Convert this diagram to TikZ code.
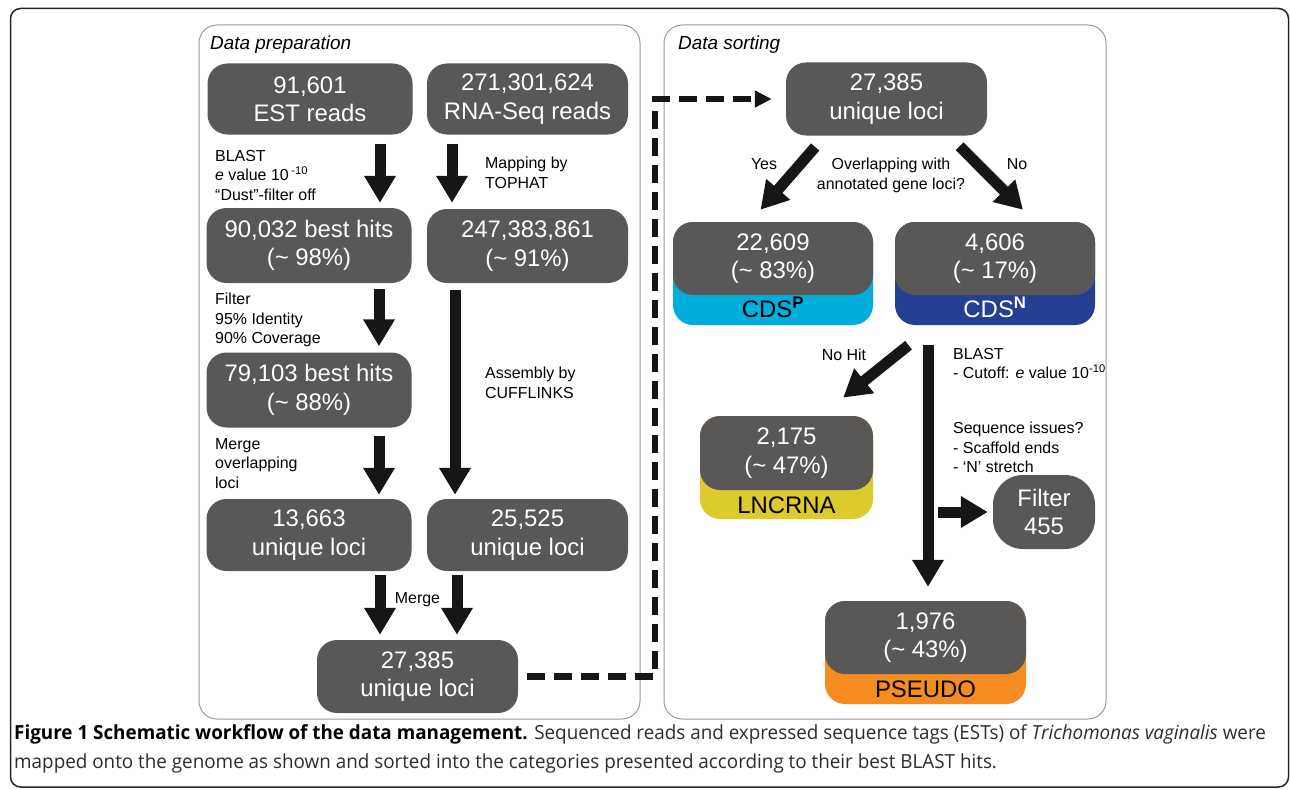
\documentclass[tikz,border=0pt]{standalone}
\usepackage{fontspec}
\setmainfont{Liberation Sans}
\newfontfamily\capfont[FakeStretch=0.97]{Open Sans}
\usetikzlibrary{arrows.meta,positioning}
\definecolor{box_gray}{RGB}{90,88,87}
\definecolor{frame_gray}{RGB}{155,155,155}
\definecolor{arrow_black}{RGB}{22,22,20}
\definecolor{cat_cyan}{RGB}{0,174,219}
\definecolor{cat_navy}{RGB}{36,64,146}
\definecolor{cat_yellow}{RGB}{221,202,44}
\definecolor{cat_orange}{RGB}{245,140,31}
\definecolor{cap_text}{RGB}{45,45,45}

\begin{document}
\begin{tikzpicture}[x=1bp,y=-1bp]
    \tikzstyle{num}=[fill=box_gray, rounded corners=20bp, text=white, align=center, inner sep=0pt,
                     font=\fontsize{24}{28.5}\selectfont, minimum width=201bp, minimum height=73bp]
    \tikzstyle{band}=[style=num, minimum height=103bp]
    \tikzstyle{cat}=[inner sep=0pt, font=\fontsize{24}{28}\selectfont, text=black]
    \tikzstyle{note}=[inner sep=0pt, align=left, anchor=north west, font=\fontsize{16}{19.5}\selectfont]
    \tikzstyle{title}=[inner sep=0pt, anchor=base west, font=\fontsize{19}{22}\selectfont\itshape]
    \tikzstyle{flow}=[draw=arrow_black, line width=11bp, -{Triangle[width=30bp,length=27bp]}]
    \tikzstyle{link}=[draw=arrow_black, line width=6.5bp, dash pattern=on 18bp off 9bp, miter limit=4,
                      -{Triangle[width=16bp,length=17bp]}]

    \useasboundingbox (0,0) rectangle (1290,790);
    \fill[white] (0,0) rectangle (1290,790);
    \draw[black!85, line width=1.5bp, rounded corners=10bp] (10.5,8.5) rectangle (1288.5,787);
    \draw[frame_gray, line width=1bp, rounded corners=18bp] (199,25) rectangle (640,719);
    \draw[frame_gray, line width=1bp, rounded corners=18bp] (664,25) rectangle (1106,719);

    \node[title] at (210,50) {Data preparation};
    \node[title] at (678,50) {Data sorting};

    \node[num, minimum width=205bp, minimum height=71bp] (est)    at (310,99)    {91,601\\EST reads};
    \node[num, minimum height=71bp]                      (rna)    at (527.5,99)  {271,301,624\\RNA-Seq reads};
    \node[num, minimum width=205bp, minimum height=75bp] (hits90) at (309,245.5) {90,032 best hits\\(\textasciitilde{} 98\%)};
    \node[num, minimum height=74bp]                      (mapped) at (527.5,246) {247,383,861\\(\textasciitilde{} 91\%)};
    \node[num, minimum width=205bp, minimum height=75bp] (hits79) at (309,390)   {79,103 best hits\\(\textasciitilde{} 88\%)};
    \node[num, minimum width=205bp, minimum height=72bp] (loci13) at (309,535)   {13,663\\unique loci};
    \node[num, minimum height=72bp]                      (loci25) at (527.5,535) {25,525\\unique loci};
    \node[num]                                           (merged) at (417.5,676.5) {27,385\\unique loci};

    \node[num]  (sortTop) at (886.5,99) {27,385\\unique loci};
    \node[band, fill=cat_cyan, minimum width=200bp]   (cdsP)   at (773,273.5)   {};
    \node[band, fill=cat_navy, minimum width=200bp]   (cdsN)   at (995,273.5)   {};
    \node[band, fill=cat_yellow, minimum width=173bp] (lnc)    at (786.5,467.5) {};
    \node[band, fill=cat_orange]                      (pseudo) at (925.5,652.5) {};
    \node[num, minimum width=200bp, anchor=north] (cdsPtop)   at (cdsP.north)   {22,609\\(\textasciitilde{} 83\%)};
    \node[num, minimum width=200bp, anchor=north] (cdsNtop)   at (cdsN.north)   {4,606\\(\textasciitilde{} 17\%)};
    \node[num, minimum width=173bp, minimum height=74bp, anchor=north] (lnctop) at (lnc.north) {2,175\\(\textasciitilde{} 47\%)};
    \node[num, anchor=north]                      (pseudotop) at (pseudo.north) {1,976\\(\textasciitilde{} 43\%)};
    \node[cat, above=7bp of cdsP.south]               {CDS\textsuperscript{\textbf{P}}};
    \node[cat, above=7bp of cdsN.south, text=white]   {CDS\textsuperscript{\textbf{N}}};
    \node[cat, above=5bp of lnc.south]                {LNCRNA};
    \node[cat, above=6bp of pseudo.south]             {PSEUDO};
    \node[num, minimum width=102bp, minimum height=74bp, rounded corners=30bp] (filter) at (1044,512) {Filter\\455};

    \node[note] (blastL)  at (215,150) {BLAST\\\textit{e} value 10\,\textsuperscript{-10}\\“Dust”-filter off};
    \node[note] (tophat)  at (485,157) {Mapping by\\TOPHAT};
    \node[note] (filtL)   at (215,293) {Filter\\95\% Identity\\90\% Coverage};
    \node[note] (cuff)    at (485,367) {Assembly by\\CUFFLINKS};
    \node[note] (mergeL)  at (215,438) {Merge\\overlapping\\loci};
    \node[note, anchor=base] (mergeB) at (417.5,603) {Merge};
    \node[note, anchor=base] (yes)    at (764,169)   {Yes};
    \node[note, anchor=base] (no)     at (1017,169)  {No};
    \node[note, anchor=north, align=center] (overlap) at (891,158) {Overlapping with\\annotated gene loci?};
    \node[note, anchor=base] (nohit)  at (844,360)   {No Hit};
    \node[note] (blastR)  at (953,348) {BLAST\\- Cutoff: \textit{e} value 10\textsuperscript{-10}};
    \node[note] (issues)  at (953,422) {Sequence issues?\\- Scaffold ends\\- ‘N’ stretch};

    \node[inner sep=0pt, anchor=base west, align=left, text=cap_text,
          font=\capfont\fontsize{19.5}{29}\selectfont] (caption) at (14,768)
        {{\bfseries\color{black}Figure 1 Schematic workflow of the data management.} Sequenced reads and expressed sequence tags (ESTs) of \textit{Trichomonas vaginalis} were\\
         mapped onto the genome as shown and sorted into the categories presented according to their best BLAST hits.};

    \path
     ([xshift=70bp]est.south)     edge[flow, shorten <=9bp, shorten >=5bp] ([xshift=70bp]est.south |- hits90.north)
     ([xshift=70bp]hits90.south)  edge[flow, shorten <=6bp, shorten >=6bp] ([xshift=70bp]hits90.south |- hits79.north)
     ([xshift=70bp]hits79.south)  edge[flow, shorten <=8bp, shorten >=4bp] ([xshift=70bp]hits79.south |- loci13.north)
     ([xshift=71bp]loci13.south)  edge[flow, shorten <=4bp, shorten >=5bp] ([xshift=71bp]loci13.south |- merged.north)
     ([xshift=-75.5bp]rna.south)  edge[flow, shorten <=9bp, shorten >=6bp] ([xshift=-75.5bp]rna.south |- mapped.north)
     ([xshift=-72.5bp]mapped.south) edge[flow, shorten <=7bp, shorten >=4bp] ([xshift=-72.5bp]mapped.south |- loci25.north)
     ([xshift=-70.5bp]loci25.south) edge[flow, shorten <=4bp, shorten >=5bp] ([xshift=-70.5bp]loci25.south |- merged.north)
     ([xshift=-61.5bp]sortTop.south) edge[flow, shorten <=15bp, shorten >=16bp] ([xshift=-23bp]cdsP.north)
     ([xshift=62.5bp]sortTop.south)  edge[flow, shorten <=15bp, shorten >=17bp] ([xshift=40bp]cdsN.north)
     ([xshift=-61.5bp]cdsN.south)    edge[flow, shorten <=32bp, shorten >=29bp] ([xshift=34bp]lnc.north)
     ([xshift=-67bp]cdsN.south)      edge[flow, shorten <=20bp, shorten >=14bp] ([xshift=-67bp]cdsN.south |- pseudo.north)
     ([xshift=-67bp]cdsN.south |- filter.west) edge[flow, shorten <=10bp, shorten >=5bp] (filter.west)
     ;

    \coordinate (bend) at (655,0);
    \draw[link, shorten <=9bp, shorten >=14bp]
      (merged.east) -- (merged.east -| bend) -- (bend |- sortTop.west) -- (sortTop.west);
\end{tikzpicture}
\end{document}
